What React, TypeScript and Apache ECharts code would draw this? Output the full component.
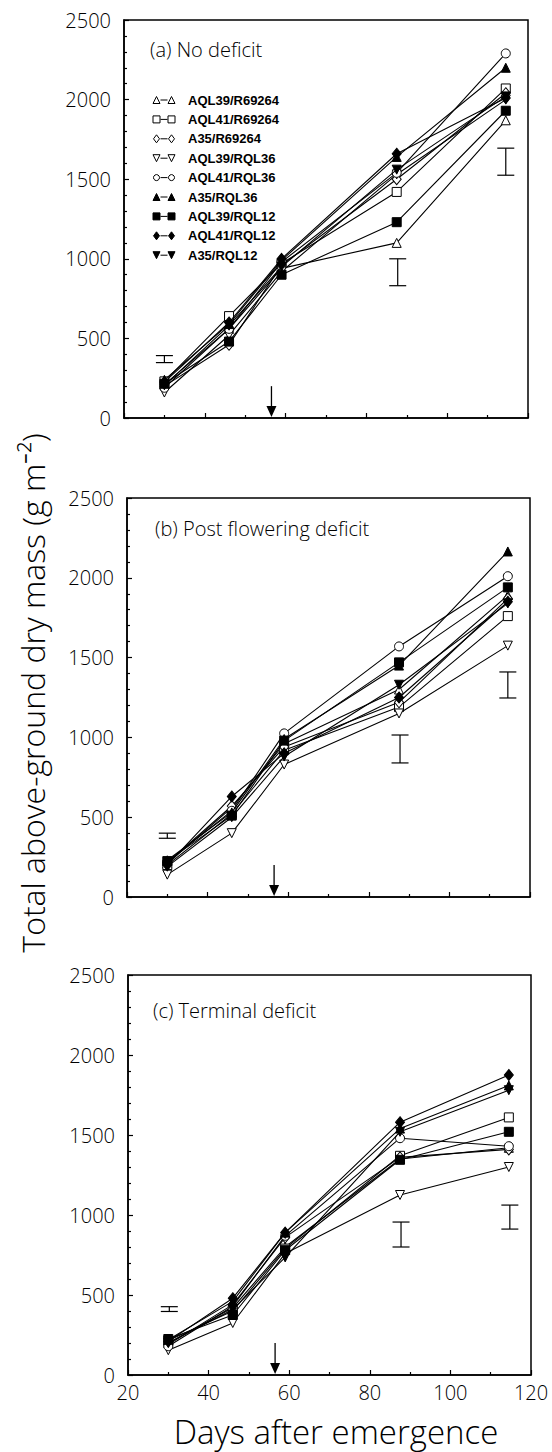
import React, { useEffect, useRef } from "react";
import * as echarts from "echarts";

// Days after emergence at which samples were taken
const days = [30, 46, 59, 87.5, 114.5];

const genotypes = [
  "AQL39/R69264",
  "AQL41/R69264",
  "A35/R69264",
  "AQL39/RQL36",
  "AQL41/RQL36",
  "A35/RQL36",
  "AQL39/RQL12",
  "AQL41/RQL12",
  "A35/RQL12",
];

// Total above-ground dry mass (g m-2), one row per genotype (same order as genotypes)
const noDeficit = [
  [210, 560, 940, 1100, 1870],
  [230, 640, 970, 1420, 2070],
  [200, 460, 960, 1500, 2040],
  [160, 520, 920, 1530, 2000],
  [190, 560, 980, 1540, 2290],
  [240, 590, 990, 1640, 2200],
  [215, 480, 900, 1230, 1930],
  [225, 600, 1000, 1660, 2010],
  [205, 580, 950, 1560, 2020],
];

const postFloweringDeficit = [
  [210, 560, 960, 1300, 1890],
  [200, 520, 920, 1190, 1760],
  [215, 570, 940, 1220, 1870],
  [140, 400, 830, 1150, 1575],
  [220, 540, 1025, 1570, 2010],
  [230, 530, 990, 1450, 2165],
  [225, 510, 980, 1470, 1940],
  [200, 630, 900, 1250, 1850],
  [190, 500, 880, 1330, 1840],
];

const terminalDeficit = [
  [200, 420, 800, 1350, 1420],
  [215, 400, 790, 1370, 1610],
  [190, 440, 860, 1360, 1410],
  [155, 325, 760, 1125, 1300],
  [180, 430, 870, 1480, 1430],
  [220, 460, 890, 1540, 1810],
  [225, 375, 780, 1345, 1520],
  [210, 480, 890, 1580, 1875],
  [200, 410, 735, 1520, 1780],
];

// Error bars: [day, low, high]
const errNoDeficit = [
  [30, 348, 392],
  [87.75, 831, 1000],
  [114.5, 1525, 1695],
];
const errPostFlowering = [
  [30, 368, 400],
  [87.75, 840, 1015],
  [114.5, 1247, 1410],
];
const errTerminal = [
  [30.25, 397, 427],
  [87.75, 800, 956],
  [114.75, 912, 1062],
];

// Flowering arrow: [day, top of arrow]
const floweringArrow = [[56.5, 200]];

const panelTitles = ["(a) No deficit", "(b) Post flowering deficit", "(c) Terminal deficit"];
const panelData = [noDeficit, postFloweringDeficit, terminalDeficit];
const panelErr = [errNoDeficit, errPostFlowering, errTerminal];

const xTitle = "Days after emergence";
const yTitle = "Total above-ground dry mass (g m\u207B\u00B2)";

// marker styles per genotype
const markerShape = ["triangle", "rect", "diamond", "triangle", "circle", "triangle", "rect", "diamond", "triangle"];
const markerRotate = [0, 0, 0, 180, 0, 0, 0, 0, 180];
const markerFilled = [false, false, false, false, false, true, true, true, true];

const grids = [
  { left: 124, top: 20, width: 404, height: 398 },
  { left: 127, top: 498, width: 403, height: 399 },
  { left: 128, top: 975, width: 403, height: 400 },
];
const titlePos = [
  [150, 49],
  [155, 528],
  [153, 1010],
];

function legendSymbol(i: number, cx: number, cy: number, s: number): any {
  const fill = markerFilled[i] ? "#000" : "#fff";
  const style = { fill, stroke: "#000", lineWidth: 1 };
  const h = s / 2;
  const shape = markerShape[i];
  if (shape === "triangle") {
    const pts =
      markerRotate[i] === 180
        ? [
            [cx - h, cy - h],
            [cx + h, cy - h],
            [cx, cy + h],
          ]
        : [
            [cx, cy - h],
            [cx + h, cy + h],
            [cx - h, cy + h],
          ];
    return { type: "polygon", shape: { points: pts }, style };
  }
  if (shape === "rect") {
    return { type: "rect", shape: { x: cx - h, y: cy - h, width: s, height: s }, style };
  }
  if (shape === "circle") {
    return { type: "circle", shape: { cx, cy, r: h - 0.5 }, style };
  }
  return {
    type: "polygon",
    shape: {
      points: [
        [cx, cy - h - 0.5],
        [cx + h - 0.5, cy],
        [cx, cy + h + 0.5],
        [cx - h + 0.5, cy],
      ],
    },
    style,
  };
}

export default function App() {
  const ref = useRef<HTMLDivElement>(null);

  useEffect(() => {
    if (!ref.current) return;
    const chart = echarts.init(ref.current, undefined, { renderer: "svg" });
    const font = "Open Sans";
    const light = 300;

    const xAxis = grids.map((_, p) => ({
      type: "value",
      gridIndex: p,
      min: 20,
      max: 120,
      interval: 20,
      axisLine: { show: true, lineStyle: { color: "#000", width: 1.5 } },
      axisTick: { show: true, inside: true, length: 5, lineStyle: { color: "#000", width: 1.2 } },
      minorTick: { show: true, splitNumber: 2, length: 3, lineStyle: { color: "#000", width: 1.2 } },
      splitLine: { show: false },
      axisLabel: {
        show: p === 2,
        fontSize: 20,
        color: "#000",
        fontFamily: font,
        fontWeight: light,
        margin: 7,
        formatter: (v: number) => String(v),
      },
    }));
    const yAxis = grids.map((_, p) => ({
      type: "value",
      gridIndex: p,
      min: 0,
      max: 2500,
      interval: 500,
      axisLine: { show: true, lineStyle: { color: "#000", width: 1.5 } },
      axisTick: { show: true, inside: true, length: 5, lineStyle: { color: "#000", width: 1.2 } },
      minorTick: { show: true, splitNumber: 5, length: 3, lineStyle: { color: "#000", width: 1.2 } },
      splitLine: { show: false },
      axisLabel: {
        fontSize: 20,
        color: "#000",
        fontFamily: font,
        fontWeight: light,
        margin: 13,
        formatter: (v: number) => String(v),
      },
    }));

    const series: any[] = [];
    panelData.forEach((panel, p) => {
      panel.forEach((vals, g) => {
        series.push({
          type: "line",
          name: genotypes[g],
          xAxisIndex: p,
          yAxisIndex: p,
          data: days.map((d, i) => [d, vals[i]]),
          symbol: markerShape[g],
          symbolSize: markerShape[g] === "diamond" ? [9, 11] : 9,
          symbolRotate: markerRotate[g],
          showSymbol: true,
          lineStyle: { color: "#000", width: 1.1 },
          itemStyle: {
            color: markerFilled[g] ? "#000" : "#fff",
            borderColor: "#000",
            borderWidth: 1,
          },
          z: markerFilled[g] ? 3 : 2,
        });
      });
      series.push({
        type: "custom",
        xAxisIndex: p,
        yAxisIndex: p,
        data: panelErr[p],
        encode: { x: 0, y: [1, 2] },
        clip: false,
        renderItem: (params: any, api: any) => {
          const x = api.value(0);
          const lo = api.coord([x, api.value(1)]);
          const hi = api.coord([x, api.value(2)]);
          const hw = 8.5;
          const st = { stroke: "#000", lineWidth: 1.2 };
          return {
            type: "group",
            children: [
              { type: "line", shape: { x1: lo[0], y1: lo[1], x2: hi[0], y2: hi[1] }, style: st },
              { type: "line", shape: { x1: lo[0] - hw, y1: lo[1], x2: lo[0] + hw, y2: lo[1] }, style: st },
              { type: "line", shape: { x1: hi[0] - hw, y1: hi[1], x2: hi[0] + hw, y2: hi[1] }, style: st },
            ],
          };
        },
      });
      series.push({
        type: "custom",
        xAxisIndex: p,
        yAxisIndex: p,
        data: floweringArrow,
        encode: { x: 0, y: 1 },
        clip: false,
        renderItem: (params: any, api: any) => {
          const x = api.value(0);
          const top = api.coord([x, api.value(1)]);
          const base = api.coord([x, 0]);
          const headH = 12;
          const headW = 5;
          return {
            type: "group",
            children: [
              {
                type: "line",
                shape: { x1: top[0], y1: top[1], x2: base[0], y2: base[1] - headH + 1 },
                style: { stroke: "#000", lineWidth: 1.3 },
              },
              {
                type: "polygon",
                shape: {
                  points: [
                    [base[0] - headW, base[1] - headH],
                    [base[0] + headW, base[1] - headH],
                    [base[0], base[1] - 1],
                  ],
                },
                style: { fill: "#000" },
              },
            ],
          };
        },
      });
    });

    const graphic: any[] = [];
    panelTitles.forEach((t, p) => {
      graphic.push({
        type: "text",
        x: titlePos[p][0],
        y: titlePos[p][1],
        style: {
          text: t,
          fontSize: 20,
          fontFamily: font,
          fontWeight: light,
          fill: "#000",
          verticalAlign: "middle",
          align: "left",
        },
      });
    });
    genotypes.forEach((name, g) => {
      const cy = 100 + g * 19.4;
      graphic.push(legendSymbol(g, 156.5, cy, 7));
      graphic.push({
        type: "line",
        shape: { x1: 160.5, y1: cy, x2: 167.5, y2: cy },
        style: { stroke: "#000", lineWidth: 1 },
      });
      graphic.push(legendSymbol(g, 171.5, cy, 7));
      graphic.push({
        type: "text",
        x: 188,
        y: cy,
        style: {
          text: name,
          fontSize: 13,
          fontWeight: "bold",
          fontFamily: "Liberation Sans",
          fill: "#000",
          verticalAlign: "middle",
          align: "left",
        },
      });
    });
    graphic.push({
      type: "text",
      x: 336,
      y: 1431,
      style: {
        text: xTitle,
        fontSize: 33,
        fontFamily: font,
        fontWeight: light,
        fill: "#000",
        align: "center",
        verticalAlign: "middle",
      },
    });
    graphic.push({
      type: "text",
      x: 32,
      y: 693,
      rotation: Math.PI / 2,
      style: {
        text: yTitle,
        fontSize: 32,
        fontFamily: font,
        fontWeight: light,
        fill: "#000",
        align: "center",
        verticalAlign: "middle",
      },
    });

    chart.setOption({
      animation: false,
      backgroundColor: "#fff",
      grid: grids.map((g) => ({ ...g, show: true, borderColor: "#000", borderWidth: 1.5, backgroundColor: "transparent" })),
      xAxis,
      yAxis,
      series,
      graphic,
    });
    return () => chart.dispose();
  }, []);

  return (
    <div
      ref={ref}
      style={{ position: "absolute", left: 0, top: 0, width: 552, height: 1452, background: "#fff" }}
    />
  );
}
